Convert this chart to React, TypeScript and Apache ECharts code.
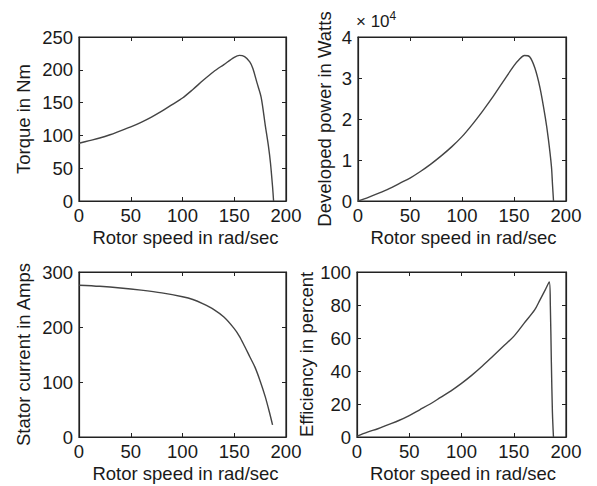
import React, { useEffect, useRef } from "react";
import * as echarts from "echarts";

const torqueSpeed = [0, 10, 20, 30, 40, 50, 60, 70, 80, 90, 100, 110, 120, 130, 140, 150, 155, 160, 165, 168, 172, 176, 180, 183, 185, 187, 188];
const torqueNm = [88, 92, 96, 101, 107, 113, 120, 128, 137, 147, 157, 170, 184, 197, 208, 219, 222, 220, 212, 202, 180, 158, 115, 84, 58, 22, 0];

const powerSpeed = [0, 10, 20, 30, 40, 50, 60, 70, 80, 90, 100, 110, 120, 130, 140, 150, 155, 160, 165, 170, 175, 180, 183, 186, 187, 188];
const powerW = [0, 900, 1900, 3000, 4300, 5600, 7200, 9000, 11000, 13200, 15700, 18700, 22000, 25500, 29300, 33000, 34500, 35500, 35200, 32500, 27600, 20500, 15200, 8400, 4100, 0];

const currentSpeed = [0, 20, 40, 60, 80, 100, 110, 120, 130, 140, 150, 155, 160, 165, 170, 175, 180, 184, 187];
const currentA = [276, 274, 271, 267, 262, 255, 250, 242, 232, 218, 197, 183, 165, 146, 127, 102, 73, 45, 22];

const effSpeed = [0, 10, 20, 30, 40, 50, 60, 70, 80, 90, 100, 110, 120, 130, 140, 150, 160, 170, 175, 180, 184, 185, 186, 187, 188];
const effPct = [0.5, 3, 5, 7.5, 10, 13, 16.5, 20, 24, 28, 32.5, 37.5, 43, 49, 55, 61, 69, 77, 83, 89, 94, 80, 45, 15, 0];

const xTitle = "Rotor speed in rad/sec";
const yTitles = ["Torque in Nm", "Developed power in Watts", "Stator current in Amps", "Efficiency in percent"];

const FONT = "Liberation Sans, Arial, Helvetica, sans-serif";
const TXT = "#1a1a1a";
const AX = "#222";
const FS = 18.5;

export default function App() {
  const ref = useRef<HTMLDivElement>(null);
  useEffect(() => {
    document.body.style.margin = "0";
    if (!ref.current) return;
    const chart = echarts.init(ref.current, null, { renderer: "svg" });

    const gridBox = [
      { left: 79, top: 37, width: 207, height: 164 },
      { left: 358, top: 37, width: 208, height: 164 },
      { left: 79, top: 272, width: 207, height: 165 },
      { left: 357, top: 272, width: 209, height: 165 },
    ];
    const grids = gridBox.map((g) => ({
      ...g, show: true, backgroundColor: "transparent", borderColor: AX, borderWidth: 1.2,
    }));
    const xPad = [6, 3, 6, 3];
    const yCfg = [
      { min: 0, max: 250, interval: 50, gap: 46, fmt: (v: number) => String(v) },
      { min: 0, max: 40000, interval: 10000, gap: 24, fmt: (v: number) => String(v / 10000) },
      { min: 0, max: 300, interval: 100, gap: 46, fmt: (v: number) => String(v) },
      { min: 0, max: 100, interval: 20, gap: 33, fmt: (v: number) => String(v) },
    ];
    const mkTick = () => ({ show: true, inside: true, length: 4, lineStyle: { color: AX, width: 1 } });
    const mkLine = () => ({ show: true, onZero: false, lineStyle: { color: AX, width: 1.2 } });

    const xAxis: any[] = [];
    const yAxis: any[] = [];
    grids.forEach((_, i) => {
      xAxis.push({
        type: "value", gridIndex: i, position: "bottom", min: 0, max: 200, interval: 50,
        name: xTitle, nameLocation: "middle", nameGap: 27,
        nameTextStyle: { fontFamily: FONT, fontSize: FS, color: TXT, padding: [0, 0, 0, xPad[i]] },
        axisLine: mkLine(), axisTick: mkTick(), splitLine: { show: false },
        axisLabel: { fontFamily: FONT, fontSize: FS, color: TXT, margin: 5 },
      });
      xAxis.push({
        type: "value", gridIndex: i, position: "top", offset: 0, min: 0, max: 200, interval: 50,
        axisLine: mkLine(), axisTick: mkTick(), splitLine: { show: false }, axisLabel: { show: false },
      });
      const c = yCfg[i];
      yAxis.push({
        type: "value", gridIndex: i, position: "left", min: c.min, max: c.max, interval: c.interval,
        name: yTitles[i], nameLocation: "middle", nameGap: c.gap,
        nameTextStyle: { fontFamily: FONT, fontSize: FS, color: TXT },
        axisLine: mkLine(), axisTick: mkTick(), splitLine: { show: false },
        axisLabel: { fontFamily: FONT, fontSize: FS, color: TXT, margin: 6, formatter: c.fmt },
      });
      yAxis.push({
        type: "value", gridIndex: i, position: "right", offset: 0, min: c.min, max: c.max, interval: c.interval,
        axisLine: mkLine(), axisTick: mkTick(), splitLine: { show: false }, axisLabel: { show: false },
      });
    });

    const pairs = (xs: number[], ys: number[]) => xs.map((x, k) => [x, ys[k]]);
    const datasets = [
      pairs(torqueSpeed, torqueNm),
      pairs(powerSpeed, powerW),
      pairs(currentSpeed, currentA),
      pairs(effSpeed, effPct),
    ];
    const series = datasets.map((d, i) => ({
      type: "line", xAxisIndex: i * 2, yAxisIndex: i * 2, data: d,
      showSymbol: false, symbol: "none", smooth: 0.3,
      lineStyle: { color: "#444", width: 1.4 },
    }));

    chart.setOption({
      animation: false,
      backgroundColor: "#ffffff",
      grid: grids,
      xAxis, yAxis, series,
      graphic: [
        {
          type: "text", left: 356, top: 10,
          style: {
            text: "{a|× 10}{s|4}",
            rich: {
              a: { fontFamily: FONT, fontSize: 17, fill: TXT, verticalAlign: "bottom" },
              s: { fontFamily: FONT, fontSize: 12, fill: TXT, verticalAlign: "top", padding: [0, 0, 8, 0] },
            },
          },
        },
      ],
    });
    return () => chart.dispose();
  }, []);
  return <div ref={ref} style={{ width: 597, height: 486 }} />;
}
